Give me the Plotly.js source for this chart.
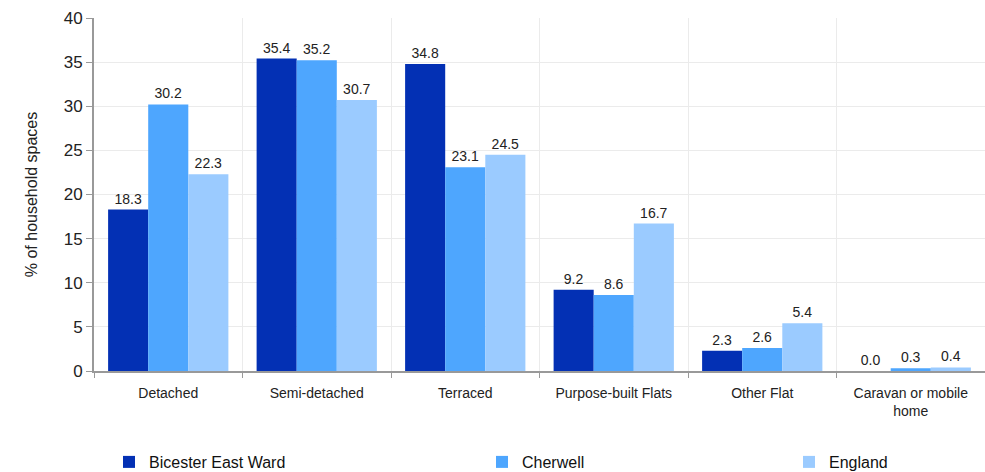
<!DOCTYPE html>
<html><head><meta charset="utf-8">
<script src="https://cdn.plot.ly/plotly-3.0.1.min.js"></script>
<style>html,body{margin:0;padding:0;background:#fff}#chart{width:985px;height:472px}</style>
</head><body><div id="chart"></div>
<script>
const categories = ["Detached","Semi-detached","Terraced","Purpose-built Flats","Other Flat","Caravan or mobile<br>home"];
const seriesNames = ["Bicester East Ward","Cherwell","England"];
const bicester = [18.3,35.4,34.8,9.2,2.3,0.0];
const cherwell = [30.2,35.2,23.1,8.6,2.6,0.3];
const england = [22.3,30.7,24.5,16.7,5.4,0.4];
const colors = ["#0330b4","#4ea6fe","#9bcbff"];
const yTicks = [0,5,10,15,20,25,30,35,40];

const values = [bicester, cherwell, england];
const legendIds = ["legend","legend2","legend3"];
const traces = values.map((v,i)=>({
  type:"bar", name:seriesNames[i], x:categories, y:v,
  marker:{color:colors[i]},
  text:v.map(d=>d.toFixed(1)), textposition:"outside", constraintext:"none",
  textfont:{family:"Liberation Sans, Arial, sans-serif", size:14, color:"#222"},
  cliponaxis:false, legend:legendIds[i], hoverinfo:"skip"
}));

const legendBase = {orientation:"h", yref:"container", y:(472-462)/472, yanchor:"middle", xanchor:"left",
  font:{family:"Liberation Sans, Arial, sans-serif", size:16, color:"#111"}, bgcolor:"rgba(0,0,0,0)"};
const layout = {
  width:985, height:472,
  margin:{l:94, r:0, t:18, b:101, autoexpand:false},
  paper_bgcolor:"#fff", plot_bgcolor:"#fff",
  barmode:"group", bargap:0.19, bargroupgap:0,
  font:{family:"Liberation Sans, Arial, sans-serif", color:"#222"},
  xaxis:{type:"category", tickson:"boundaries", showgrid:true, gridcolor:"#ebebeb", gridwidth:1,
    ticks:"outside", ticklen:5, tickcolor:"#999", showline:true, linecolor:"#999", linewidth:2,
    tickfont:{size:14, color:"#222"}, ticklabelstandoff:8, fixedrange:true, automargin:false},
  yaxis:{range:[0,40], tickvals:yTicks, showgrid:true, gridcolor:"#ebebeb", gridwidth:1,
    ticks:"outside", ticklen:6, tickcolor:"#999", showline:true, linecolor:"#999", linewidth:2,
    tickfont:{size:17, color:"#222"}, zeroline:false, automargin:false,
    title:{text:"% of household spaces", font:{size:16, color:"#222"}, standoff:22}},
  legend:Object.assign({x:(109-94)/891}, legendBase),
  legend2:Object.assign({x:(482-94)/891}, legendBase),
  legend3:Object.assign({x:(789-94)/891}, legendBase),
  showlegend:true
};
Plotly.newPlot("chart", traces, layout, {displayModeBar:false, staticPlot:true});
</script></body></html>
